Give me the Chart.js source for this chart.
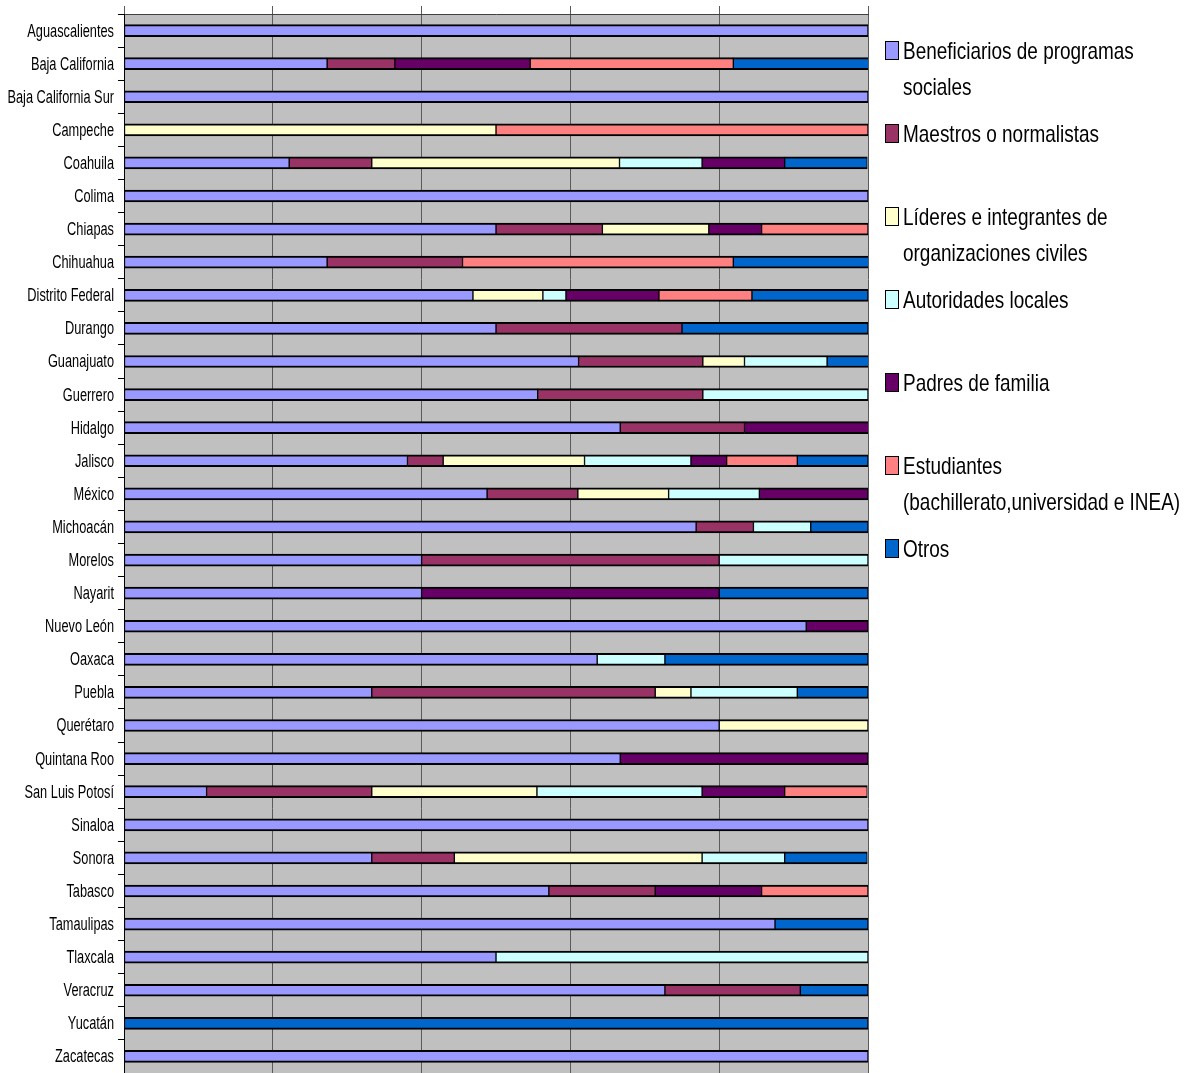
<!DOCTYPE html>
<html>
<head>
<meta charset="utf-8">
<script src="https://cdn.jsdelivr.net/npm/chart.js@4/dist/chart.umd.min.js"></script>
<style>
  html,body{margin:0;padding:0;background:#fff;}
  #wrap{position:relative;width:1195px;height:1073px;overflow:hidden;}
  #c{position:absolute;left:0;top:0;}
  #legend{position:absolute;left:885px;top:0;width:310px;height:600px;font-family:"Liberation Sans",Arial,sans-serif;font-size:24px;color:#000;}
  .item{position:absolute;left:0;width:310px;line-height:36px;}
  .box{position:absolute;left:0;top:8px;width:12px;height:17px;border:1px solid #000;}
  .txt{position:absolute;left:18px;top:0;width:365px;transform:scaleX(0.79);transform-origin:0 0;white-space:normal;}
</style>
</head>
<body>
<div id="wrap">
  <canvas id="c" width="1195" height="1073"></canvas>
  <div id="legend"></div>
</div>
<script>
const categories = ["Aguascalientes","Baja California","Baja California Sur","Campeche","Coahuila","Colima","Chiapas","Chihuahua","Distrito Federal","Durango","Guanajuato","Guerrero","Hidalgo","Jalisco","México","Michoacán","Morelos","Nayarit","Nuevo León","Oaxaca","Puebla","Querétaro","Quintana Roo","San Luis Potosí","Sinaloa","Sonora","Tabasco","Tamaulipas","Tlaxcala","Veracruz","Yucatán","Zacatecas"];

const seriesNames = ["Beneficiarios de programas sociales","Maestros o normalistas","Líderes e integrantes de organizaciones civiles","Autoridades locales","Padres de familia","Estudiantes (bachillerato,universidad e INEA)","Otros"];

const seriesColors = ["#9999FF","#993366","#FFFFCC","#CCFFFF","#660066","#FF8080","#0066CC"];

const beneficiarios = [100,27.3,100,0,22.2,100,50,27.3,46.9,50,61.1,55.6,66.7,38.1,48.8,76.9,40,40,91.7,63.6,33.3,80,66.7,11.1,100,33.3,57.1,87.5,50,72.7,0,100];
const maestros      = [0,9.1,0,0,11.1,0,14.3,18.2,0,25,16.7,22.2,16.7,4.8,12.2,7.7,40,0,0,0,38.1,0,0,22.2,0,11.1,14.3,0,0,18.2,0,0];
const lideres       = [0,0,0,50,33.3,0,14.3,0,9.4,0,5.6,0,0,19.0,12.2,0,0,0,0,0,4.8,20,0,22.2,0,33.3,0,0,0,0,0,0];
const autoridades   = [0,0,0,0,11.1,0,0,0,3.1,0,11.1,22.2,0,14.3,12.2,7.7,20,0,0,9.1,14.3,0,0,22.2,0,11.1,0,0,50,0,0,0];
const padres        = [0,18.2,0,0,11.1,0,7.1,0,12.5,0,0,0,16.7,4.8,14.6,0,0,40,8.3,0,0,0,33.3,11.1,0,0,14.3,0,0,0,0,0];
const estudiantes   = [0,27.3,0,50,0,0,14.3,36.4,12.5,0,0,0,0,9.5,0,0,0,0,0,0,0,0,0,11.1,0,0,14.3,0,0,0,0,0];
const otros         = [0,18.2,0,0,11.1,0,0,18.2,15.6,25,5.6,0,0,9.5,0,7.7,0,20,0,27.3,9.5,0,0,0,0,11.1,0,12.5,0,9.1,100,0];

const xTicks = [0,20,40,60,80,100];

const seriesValues = [beneficiarios,maestros,lideres,autoridades,padres,estudiantes,otros];

const bgPlugin = {
  id:'plotBg',
  beforeDraw(chart){
    const {ctx, chartArea:a} = chart;
    ctx.save();
    ctx.fillStyle = '#C0C0C0';
    ctx.fillRect(a.left, a.top, a.right-a.left, a.bottom-a.top);
    ctx.restore();
  }
};

// draws the category labels in a narrow (horizontally condensed) face
const narrowLabels = {
  id:'narrowLabels',
  afterDraw(chart){
    const {ctx} = chart;
    const y = chart.scales.y;
    ctx.save();
    ctx.fillStyle = '#000';
    ctx.font = '18px "Liberation Sans", Arial, sans-serif';
    ctx.textAlign = 'right';
    ctx.textBaseline = 'middle';
    chart.data.labels.forEach((lab,i)=>{
      const py = y.getPixelForTick(i);
      ctx.save();
      ctx.translate(y.right - 10, py + 1);
      ctx.scale(0.71,1);
      ctx.fillText(lab,0,0);
      ctx.restore();
    });
    ctx.restore();
  }
};

new Chart(document.getElementById('c'), {
  type:'bar',
  data:{
    labels:categories,
    datasets: seriesNames.map((n,i)=>({
      label:n,
      data:seriesValues[i],
      backgroundColor:seriesColors[i],
      borderColor:'#000',
      borderWidth:{top:2,bottom:2,left:1,right:1},
      borderSkipped:false,
      barThickness:12
    }))
  },
  options:{
    indexAxis:'y',
    responsive:false,
    animation:false,
    devicePixelRatio:1,
    layout:{padding:{top:6,right:327,bottom:0,left:0}},
    plugins:{legend:{display:false},tooltip:{enabled:false}},
    scales:{
      x:{
        stacked:true,
        position:'top',
        min:0,max:100,
        afterBuildTicks(s){ s.ticks = xTicks.map(v=>({value:v})); },
        ticks:{display:false},
        grid:{color:'#5a5a5a',lineWidth:1,tickLength:8,drawTicks:true},
        border:{display:true,color:'#404040',width:1}
      },
      y:{
        stacked:true,
        afterFit(s){ s.width = 124; },
        ticks:{display:false},
        grid:{drawOnChartArea:false,offset:true,tickLength:6,color:'#000'},
        border:{display:true,color:'#000',width:1}
      }
    }
  },
  plugins:[bgPlugin, narrowLabels]
});

// HTML legend built from the series arrays
const leg = document.getElementById('legend');
seriesNames.forEach((n,i)=>{
  const it = document.createElement('div');
  it.className='item';
  it.style.top = (33 + i*83) + 'px';
  const b = document.createElement('div');
  b.className='box';
  b.style.background = seriesColors[i];
  const t = document.createElement('div');
  t.className='txt';
  t.textContent = n;
  it.appendChild(b); it.appendChild(t);
  leg.appendChild(it);
});
</script>
</body>
</html>
